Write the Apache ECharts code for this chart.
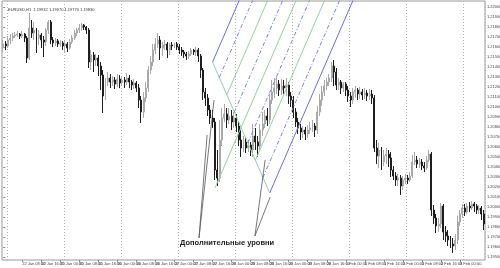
<!DOCTYPE html>
<html><head><meta charset="utf-8">
<script src="https://cdn.jsdelivr.net/npm/echarts@6/dist/echarts.min.js"></script>
<style>html,body{margin:0;padding:0;background:#fff}#c{width:500px;height:268px}</style>
</head><body><div id="c"></div>
<script>
const days = ['22 Jan','25 Jan','26 Jan','27 Jan','28 Jan','29 Jan','1 Feb','2 Feb','3 Feb'];
const openP = [
1.2159,1.2163,1.2161,1.2167,1.2169,1.2171,1.2172,1.2173,1.2171,1.2173,
1.2169,1.2149,1.2179,1.2174,1.2177,1.2169,1.2172,1.2167,1.2165,1.2177,
1.2185,1.2167,1.2164,1.2166,1.2163,1.2164,1.2161,1.2163,1.2159,1.2165,
1.2169,1.2174,1.2177,1.2179,1.2182,1.2180,1.2177,1.2145,1.2152,1.2147,
1.2149,1.2141,1.2132,1.2111,1.2125,1.2129,1.2125,1.2127,1.2123,1.2128,
1.2124,1.2127,1.2125,1.2129,1.2125,1.2122,1.2124,1.2119,1.2107,1.2095,
1.2109,1.2119,1.2137,1.2145,1.2157,1.2163,1.2167,1.2159,1.2162,1.2163,
1.2157,1.2162,1.2161,1.2163,1.2160,1.2157,1.2155,1.2153,1.2151,1.2153,
1.2157,1.2155,1.2157,1.2151,1.2137,1.2115,1.2109,1.2097,1.2089,1.2085,
1.2037,1.2029,1.2067,1.2089,1.2093,1.2087,1.2091,1.2085,1.2089,1.2081,
1.2067,1.2059,1.2065,1.2059,1.2062,1.2057,1.2071,1.2065,1.2061,1.2077,
1.2083,1.2091,1.2087,1.2107,1.2115,1.2119,1.2123,1.2117,1.2121,1.2119,
1.2122,1.2111,1.2107,1.2095,1.2085,1.2079,1.2075,1.2077,1.2073,1.2077,
1.2079,1.2081,1.2077,1.2095,1.2107,1.2115,1.2121,1.2125,1.2129,1.2141,
1.2135,1.2122,1.2125,1.2119,1.2123,1.2117,1.2111,1.2107,1.2115,1.2117,
1.2113,1.2115,1.2112,1.2114,1.2111,1.2113,1.2109,1.2059,1.2051,1.2057,
1.2045,1.2051,1.2053,1.2049,1.2037,1.2031,1.2027,1.2029,1.2021,1.2027,
1.2029,1.2027,1.2031,1.2045,1.2047,1.2043,1.2045,1.2041,1.2039,1.2047,
1.2053,1.1997,1.1989,1.1981,1.1983,1.2001,1.1975,1.1971,1.1967,1.1963,
1.1961,1.1967,1.1985,1.1993,1.1999,1.1995,1.2001,1.1999,1.2003,1.2001,
1.1997,1.1999,1.1993];
const closeP = [
1.2163,1.2161,1.2167,1.2169,1.2171,1.2172,1.2173,1.2171,1.2173,1.2169,
1.2149,1.2179,1.2174,1.2177,1.2169,1.2172,1.2167,1.2165,1.2177,1.2185,
1.2167,1.2164,1.2166,1.2163,1.2164,1.2161,1.2163,1.2159,1.2165,1.2169,
1.2174,1.2177,1.2179,1.2182,1.2180,1.2177,1.2145,1.2152,1.2147,1.2149,
1.2141,1.2132,1.2111,1.2125,1.2129,1.2125,1.2127,1.2123,1.2128,1.2124,
1.2127,1.2125,1.2129,1.2125,1.2122,1.2124,1.2119,1.2107,1.2095,1.2109,
1.2119,1.2137,1.2145,1.2157,1.2163,1.2167,1.2159,1.2162,1.2163,1.2157,
1.2162,1.2161,1.2163,1.2160,1.2157,1.2155,1.2153,1.2151,1.2153,1.2157,
1.2155,1.2157,1.2151,1.2137,1.2115,1.2109,1.2097,1.2089,1.2085,1.2037,
1.2029,1.2067,1.2089,1.2093,1.2087,1.2091,1.2085,1.2089,1.2081,1.2067,
1.2059,1.2065,1.2059,1.2062,1.2057,1.2071,1.2065,1.2061,1.2077,1.2083,
1.2091,1.2087,1.2107,1.2115,1.2119,1.2123,1.2117,1.2121,1.2119,1.2122,
1.2111,1.2107,1.2095,1.2085,1.2079,1.2075,1.2077,1.2073,1.2077,1.2079,
1.2081,1.2077,1.2095,1.2107,1.2115,1.2121,1.2125,1.2129,1.2141,1.2135,
1.2122,1.2125,1.2119,1.2123,1.2117,1.2111,1.2107,1.2115,1.2117,1.2113,
1.2115,1.2112,1.2114,1.2111,1.2113,1.2109,1.2059,1.2051,1.2057,1.2045,
1.2051,1.2053,1.2049,1.2037,1.2031,1.2027,1.2029,1.2021,1.2027,1.2029,
1.2027,1.2031,1.2045,1.2047,1.2043,1.2045,1.2041,1.2039,1.2047,1.2053,
1.1997,1.1989,1.1981,1.1983,1.2001,1.1975,1.1971,1.1967,1.1963,1.1961,
1.1967,1.1985,1.1993,1.1999,1.1995,1.2001,1.1999,1.2003,1.2001,1.1997,
1.1999,1.1993,1.1983];
const lowP = [
1.2155,1.2157,1.2159,1.2163,1.2166,1.2169,1.2170,1.2168,1.2169,1.2165,
1.2144,1.2147,1.2169,1.2167,1.2154,1.2162,1.2159,1.2150,1.2161,1.2173,
1.2163,1.2160,1.2161,1.2160,1.2160,1.2157,1.2154,1.2155,1.2157,1.2163,
1.2167,1.2171,1.2174,1.2176,1.2177,1.2173,1.2139,1.2137,1.2135,1.2141,
1.2131,1.2117,1.2094,1.2107,1.2121,1.2119,1.2121,1.2118,1.2120,1.2119,
1.2121,1.2119,1.2122,1.2119,1.2117,1.2118,1.2115,1.2099,1.2084,1.2089,
1.2105,1.2115,1.2133,1.2141,1.2153,1.2159,1.2147,1.2151,1.2157,1.2149,
1.2152,1.2157,1.2159,1.2157,1.2153,1.2151,1.2149,1.2147,1.2148,1.2151,
1.2152,1.2151,1.2145,1.2129,1.2107,1.2101,1.2091,1.2083,1.2079,1.2027,
1.2021,1.2025,1.2061,1.2085,1.2079,1.2083,1.2077,1.2079,1.2075,1.2061,
1.2050,1.2055,1.2054,1.2055,1.2051,1.2050,1.2057,1.2050,1.2057,1.2071,
1.2079,1.2081,1.2083,1.2103,1.2109,1.2113,1.2111,1.2112,1.2113,1.2111,
1.2103,1.2100,1.2089,1.2080,1.2073,1.2067,1.2069,1.2067,1.2069,1.2073,
1.2075,1.2070,1.2073,1.2091,1.2101,1.2111,1.2117,1.2121,1.2125,1.2121,
1.2117,1.2117,1.2113,1.2115,1.2111,1.2105,1.2100,1.2103,1.2109,1.2107,
1.2108,1.2107,1.2108,1.2106,1.2107,1.2103,1.2055,1.2043,1.2039,1.2037,
1.2041,1.2043,1.2040,1.2030,1.2027,1.2021,1.2021,1.2012,1.2017,1.2023,
1.2023,1.2025,1.2029,1.2042,1.2039,1.2039,1.2037,1.2035,1.2037,1.2045,
1.1991,1.1983,1.1974,1.1975,1.1979,1.1967,1.1965,1.1961,1.1959,1.1954,
1.1957,1.1963,1.1981,1.1989,1.1991,1.1993,1.1995,1.1997,1.1995,1.1993,
1.1993,1.1987,1.1977];
const highP = [
1.2167,1.2166,1.2171,1.2173,1.2174,1.2175,1.2176,1.2174,1.2176,1.2174,
1.2171,1.2194,1.2187,1.2185,1.2179,1.2177,1.2174,1.2171,1.2179,1.2187,
1.2187,1.2170,1.2169,1.2168,1.2167,1.2166,1.2167,1.2165,1.2168,1.2172,
1.2177,1.2179,1.2183,1.2184,1.2183,1.2181,1.2179,1.2157,1.2155,1.2153,
1.2152,1.2145,1.2137,1.2129,1.2135,1.2133,1.2131,1.2130,1.2133,1.2132,
1.2131,1.2130,1.2134,1.2132,1.2127,1.2128,1.2126,1.2123,1.2111,1.2115,
1.2125,1.2141,1.2151,1.2163,1.2169,1.2174,1.2171,1.2165,1.2167,1.2165,
1.2164,1.2165,1.2164,1.2165,1.2163,1.2160,1.2157,1.2155,1.2156,1.2159,
1.2158,1.2160,1.2159,1.2153,1.2139,1.2119,1.2113,1.2102,1.2097,1.2089,
1.2057,1.2087,1.2099,1.2103,1.2099,1.2099,1.2097,1.2095,1.2093,1.2085,
1.2077,1.2071,1.2069,1.2067,1.2065,1.2083,1.2079,1.2071,1.2083,1.2095,
1.2097,1.2099,1.2113,1.2127,1.2129,1.2130,1.2127,1.2128,1.2127,1.2129,
1.2125,1.2115,1.2111,1.2099,1.2089,1.2083,1.2081,1.2080,1.2082,1.2085,
1.2087,1.2084,1.2101,1.2113,1.2121,1.2127,1.2129,1.2133,1.2145,1.2147,
1.2139,1.2129,1.2127,1.2125,1.2125,1.2121,1.2115,1.2119,1.2121,1.2119,
1.2120,1.2118,1.2119,1.2117,1.2118,1.2117,1.2112,1.2067,1.2064,1.2060,
1.2057,1.2059,1.2057,1.2055,1.2041,1.2035,1.2033,1.2032,1.2031,1.2033,
1.2032,1.2035,1.2052,1.2055,1.2051,1.2049,1.2048,1.2045,1.2051,1.2057,
1.2055,1.2002,1.1993,1.1989,1.2004,1.2003,1.1981,1.1977,1.1971,1.1969,
1.1973,1.1991,1.1997,1.2003,1.2003,1.2004,1.2005,1.2006,1.2005,1.2003,
1.2002,1.2001,1.1997];
const yTicks = [1.2200,1.2190,1.2180,1.2170,1.2160,1.2150,1.2140,1.2130,1.2120,1.2110,1.2100,1.2090,1.2080,
                1.2070,1.2060,1.2050,1.2040,1.2030,1.2020,1.2010,1.2000,1.1990,1.1980,1.1970,1.1960,1.1950];
const yMin = 1.1947, yMax = 1.2206;
const pfBars = [89, 88, 112];
const pfPrices = [1.2019, 1.2145, 1.2014];
const pfLevels = [0.236, 0.5, 0.764];
const annotText = 'Дополнительные уровни';
const annotAnchor = [94.1, 1.1964];
const arrowFrom = [[82.3, 1.1969], [82.3, 1.1969], [105.8, 1.1971], [105.8, 1.1971]];
const arrowTo = [[85.7, 1.2072], [88.6, 1.2107], [110.1, 1.2047], [112.2, 1.2010]];
const headerText = 'EURUSD,H1  1.19932 1.19970 1.19770 1.19830';

const N = openP.length;
const categories = [];
for (let i = 0; i < N; i++) {
  const d = days[Math.floor(i / 24)], h = i % 24;
  categories.push(i === 0 ? '22 Jan 2021' : d + ' ' + (h < 10 ? '0' : '') + h + ':00');
}
const candles = openP.map((o, i) => [o, closeP[i], lowP[i], highP[i]]);

const [b1, b2, b3] = pfBars, [q1, q2, q3] = pfPrices;
const mb = (b2 + b3) / 2, mq = (q2 + q3) / 2;
const slope = (mq - q1) / (mb - b1);
const topP = yMax + 0.0006;
function ray(b, q) { return [[b, q], [b + (topP - q) / slope, topP]]; }
const BLUE = '#6a6af0', BLUE2 = '#7b7bf5', GREEN = '#8fd3a0';
const lineSeries = [];
function addLine(data, color, type, width) {
  lineSeries.push({ type: 'line', xAxisIndex: 1, yAxisIndex: 0, data: data, showSymbol: false, clip: true,
    lineStyle: { color: color, width: width || 1, type: type || 'solid' }, silent: true, z: 5 });
}
addLine(ray(b1, q1), GREEN, 'solid');
addLine(ray(b2, q2), BLUE, 'solid');
addLine(ray(b3, q3), BLUE, 'solid');
addLine([[b2, q2], [b3, q3]], GREEN, 'solid');
pfLevels.forEach(f => {
  const style = f === 0.5 ? 'solid' : [4, 2, 1, 2];
  const col = f === 0.5 ? GREEN : BLUE2;
  addLine(ray(b2 + f * (mb - b2), q2 + f * (mq - q2)), col, style);
  addLine(ray(mb + f * (b3 - mb), mq + f * (q3 - mq)), col, style);
});
arrowFrom.forEach((p, k) => {
  lineSeries.push({ type: 'line', xAxisIndex: 1, yAxisIndex: 0, data: [p, arrowTo[k]], showSymbol: false,
    lineStyle: { color: '#555', width: 0.8 }, silent: true, z: 6 });
});

const labelEvery8 = (idx) => idx % 8 === 0;
const splitEvery24 = (idx) => idx % 24 === 2;

const chart = echarts.init(document.getElementById('c'), null, { renderer: 'canvas' });
chart.setOption({
  animation: false,
  backgroundColor: '#fff',
  title: { text: headerText, left: 3, top: 3, textStyle: { fontSize: 4, fontWeight: 'normal', color: '#333', fontFamily: 'Liberation Sans' } },
  grid: { left: 2, right: 15, top: 1, bottom: 8, show: true, borderColor: '#9a9a9a', borderWidth: 1, backgroundColor: '#fff',
    outerBoundsMode: 'none', containLabel: false },
  xAxis: [
    { type: 'category', data: categories, boundaryGap: true, gridIndex: 0,
      axisLine: { show: false },
      axisTick: { show: true, interval: labelEvery8, alignWithLabel: true, length: 2, lineStyle: { color: '#888' } },
      axisLabel: { interval: labelEvery8, fontSize: 4, color: '#444', align: 'left', margin: 2, fontFamily: 'Liberation Sans' },
      splitLine: { show: true, interval: splitEvery24, lineStyle: { color: '#b4b4b4', type: [1, 2], width: 1 } } },
    { type: 'value', min: -0.5, max: N - 0.5, gridIndex: 0, show: false, splitLine: { show: false } }
  ],
  yAxis: [{ type: 'value', position: 'right', min: yMin, max: yMax, scale: true,
    axisLine: { show: false },
    axisTick: { show: true, length: 2, customValues: yTicks, lineStyle: { color: '#888' } },
    axisLabel: { customValues: yTicks, fontSize: 4, color: '#444', margin: 2, fontFamily: 'Liberation Sans',
      formatter: v => v.toFixed(5) },
    splitLine: { show: false } }],
  series: [
    { type: 'candlestick', xAxisIndex: 0, yAxisIndex: 0, data: candles, barWidth: '62%', z: 3,
      itemStyle: { color: '#d2d2d2', color0: '#1e1e1e', borderColor: '#a9a9a9', borderColor0: '#1e1e1e', borderWidth: 1 } }
  ].concat(lineSeries)
});
// annotation text placed through the chart's own coordinate conversion
const ap = chart.convertToPixel({ xAxisIndex: 1, yAxisIndex: 0 }, annotAnchor);
chart.setOption({ graphic: [{ type: 'text', x: ap[0], y: ap[1], z: 100, silent: true,
  style: { text: annotText, fill: '#222', font: 'bold 7.5px "Liberation Sans"', align: 'center', verticalAlign: 'middle' } }] });
</script></body></html>
